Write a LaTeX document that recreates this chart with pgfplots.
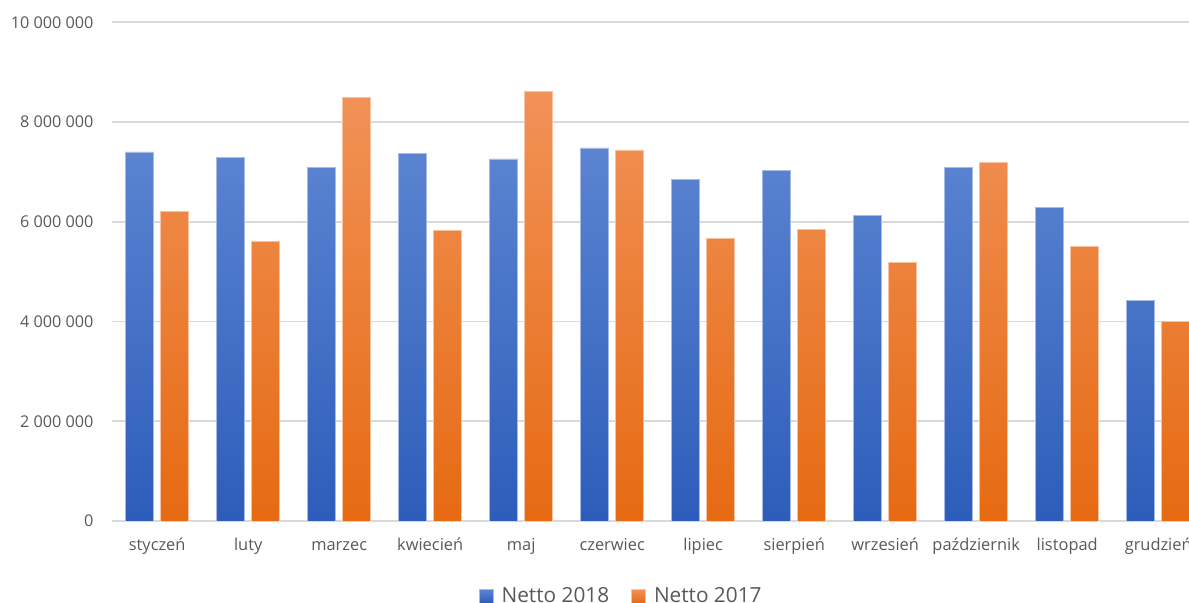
\documentclass[border=0pt]{standalone}
\usepackage{pgfplots}
\pgfplotsset{compat=1.18}
\usepackage{fontspec}
\setmainfont{Open Sans}
\definecolor{gridc}{HTML}{D9D9D9}
\definecolor{txt}{HTML}{595959}
\definecolor{btop}{HTML}{5B84D1}
\definecolor{bbot}{HTML}{2D5DBA}
\definecolor{otop}{HTML}{F19258}
\definecolor{obot}{HTML}{E66A12}
\begin{document}
\begin{tikzpicture}
\begin{axis}[
  at={(0,0)}, anchor=south west,
  scale only axis, width=546pt, height=249.35pt,
  xmin=-0.5, xmax=11.5, ymin=0, ymax=10000000,
  ybar=3.5pt, bar width=14pt,
  axis line style={draw=none},
  major tick length=0pt,
  ymajorgrids, major grid style={color=gridc, line width=0.8pt},
  ytick={0,2000000,4000000,6000000,8000000,10000000},
  yticklabels={0,2 000 000,4 000 000,6 000 000,8 000 000,10 000 000},
  xtick={0,...,11},
  xticklabels={styczeń,luty,marzec,kwiecień,maj,czerwiec,lipiec,sierpień,wrzesień,październik,listopad,grudzień},
  yticklabel style={anchor=east, inner sep=0pt, xshift=-9pt, font=\fontsize{8.1}{10}\selectfont, text=txt},
  xticklabel style={anchor=base, inner sep=0pt, yshift=-14.9pt, font=\fontsize{8.2}{10}\selectfont, text=txt},
  scaled y ticks=false,
  legend style={at={(0.4675,-0.151)}, anchor=center, draw=none, legend columns=2,
    font=\fontsize{10.4}{12}\selectfont, text=txt,
    /tikz/every odd column/.append style={column sep=2pt},
    /tikz/every even column/.append style={column sep=9pt}},
  legend image code/.code={\fill[#1] (0pt,-3.4pt) rectangle (7pt,3.3pt);},
]
\addplot[top color=btop, bottom color=bbot, draw=btop!55!white, line width=0.4pt]
  coordinates {(0,7400000) (1,7290000) (2,7090000) (3,7370000) (4,7260000) (5,7480000)
               (6,6840000) (7,7030000) (8,6120000) (9,7090000) (10,6290000) (11,4420000)};
\addlegendentry{Netto 2018}
\addplot[top color=otop, bottom color=obot, draw=otop!55!white, line width=0.4pt]
  coordinates {(0,6200000) (1,5600000) (2,8490000) (3,5820000) (4,8620000) (5,7440000)
               (6,5660000) (7,5840000) (8,5180000) (9,7190000) (10,5500000) (11,4010000)};
\addlegendentry{Netto 2017}
\end{axis}
\pgfresetboundingbox
\path[use as bounding box] (-55.85pt,-41pt) rectangle (538.65pt,260.5pt);
\end{tikzpicture}
\end{document}
